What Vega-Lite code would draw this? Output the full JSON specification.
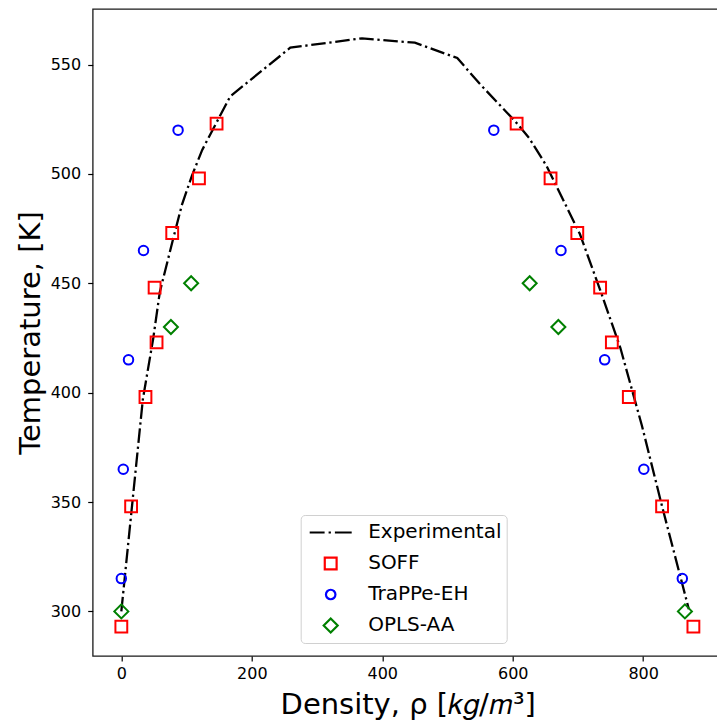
{
  "$schema": "https://vega.github.io/schema/vega-lite/v6.json",
  "width": 630,
  "height": 647,
  "autosize": {"type": "none"},
  "padding": {"left": 92.7, "top": 9, "right": 0, "bottom": 66},
  "background": "white",
  "config": {
    "view": {"stroke": "#1a1a1a", "strokeWidth": 1.3},
    "font": "DejaVu Sans",
    "axis": {
      "labelFont": "DejaVu Sans",
      "labelFontSize": 16,
      "labelColor": "#000000",
      "tickColor": "#000000",
      "tickSize": 5,
      "tickWidth": 1.2,
      "grid": false,
      "domain": false,
      "titleFont": "DejaVu Sans",
      "titleFontSize": 29,
      "titleFontWeight": "normal",
      "titleColor": "#000000"
    },
    "legend": {
      "labelFont": "DejaVu Sans",
      "labelFontSize": 20,
      "labelColor": "#000000"
    }
  },
  "datasets": {
    "experimental": [
      {"k": 1, "rho": 0, "T": 300},
      {"k": 2, "rho": 17, "T": 350},
      {"k": 3, "rho": 33, "T": 397},
      {"k": 4, "rho": 49, "T": 425},
      {"k": 5, "rho": 59, "T": 446},
      {"k": 6, "rho": 80, "T": 471},
      {"k": 7, "rho": 93, "T": 486},
      {"k": 8, "rho": 108, "T": 499},
      {"k": 9, "rho": 124, "T": 511},
      {"k": 10, "rho": 167, "T": 535.5},
      {"k": 11, "rho": 259, "T": 557.7},
      {"k": 12, "rho": 369, "T": 562},
      {"k": 13, "rho": 450, "T": 560},
      {"k": 14, "rho": 515, "T": 553},
      {"k": 15, "rho": 550, "T": 541},
      {"k": 16, "rho": 604, "T": 524},
      {"k": 17, "rho": 625, "T": 516.5},
      {"k": 18, "rho": 652, "T": 503.6},
      {"k": 19, "rho": 703, "T": 472.5},
      {"k": 20, "rho": 734, "T": 447},
      {"k": 21, "rho": 765, "T": 420.5},
      {"k": 22, "rho": 798, "T": 385},
      {"k": 23, "rho": 829, "T": 348},
      {"k": 24, "rho": 870, "T": 301}
    ],
    "simulations": [
      {"model": "SOFF", "rho": 0, "T": 293},
      {"model": "SOFF", "rho": 15, "T": 348},
      {"model": "SOFF", "rho": 37, "T": 398},
      {"model": "SOFF", "rho": 54, "T": 423},
      {"model": "SOFF", "rho": 51, "T": 448},
      {"model": "SOFF", "rho": 78, "T": 473},
      {"model": "SOFF", "rho": 119, "T": 498},
      {"model": "SOFF", "rho": 146, "T": 523},
      {"model": "SOFF", "rho": 877, "T": 293},
      {"model": "SOFF", "rho": 829, "T": 348},
      {"model": "SOFF", "rho": 778, "T": 398},
      {"model": "SOFF", "rho": 752, "T": 423},
      {"model": "SOFF", "rho": 734, "T": 448},
      {"model": "SOFF", "rho": 699, "T": 473},
      {"model": "SOFF", "rho": 658, "T": 498},
      {"model": "SOFF", "rho": 606, "T": 523},
      {"model": "TraPPe-EH", "rho": 0, "T": 315},
      {"model": "TraPPe-EH", "rho": 3, "T": 365},
      {"model": "TraPPe-EH", "rho": 11, "T": 415},
      {"model": "TraPPe-EH", "rho": 34, "T": 465},
      {"model": "TraPPe-EH", "rho": 87, "T": 520},
      {"model": "TraPPe-EH", "rho": 860, "T": 315},
      {"model": "TraPPe-EH", "rho": 801, "T": 365},
      {"model": "TraPPe-EH", "rho": 741, "T": 415},
      {"model": "TraPPe-EH", "rho": 674, "T": 465},
      {"model": "TraPPe-EH", "rho": 571, "T": 520},
      {"model": "OPLS-AA", "rho": 0, "T": 300},
      {"model": "OPLS-AA", "rho": 76, "T": 430},
      {"model": "OPLS-AA", "rho": 107, "T": 450},
      {"model": "OPLS-AA", "rho": 864, "T": 300},
      {"model": "OPLS-AA", "rho": 670, "T": 430},
      {"model": "OPLS-AA", "rho": 626, "T": 450}
    ]
  },
  "encoding": {
    "x": {
      "field": "rho",
      "type": "quantitative",
      "scale": {"domain": [-43.9, 921.9], "nice": false, "zero": false},
      "axis": {
        "values": [0, 200, 400, 600, 800],
        "labelPadding": 5,
        "title": "Density, ρ [𝑘𝑔/𝑚³]",
        "titlePadding": 9
      }
    },
    "y": {
      "field": "T",
      "type": "quantitative",
      "scale": {"domain": [279.6, 575.4], "nice": false, "zero": false},
      "axis": {
        "values": [300, 350, 400, 450, 500, 550],
        "labelPadding": 7,
        "title": "Temperature, [K]",
        "titlePadding": 5
      }
    }
  },
  "layer": [
    {
      "data": {"name": "experimental"},
      "mark": {
        "type": "line",
        "color": "#000000",
        "strokeWidth": 2.3,
        "strokeDash": [14.5, 3.7, 2.3, 3.7],
        "clip": true
      },
      "encoding": {
        "order": {"field": "k", "type": "quantitative"}
      }
    },
    {
      "data": {"name": "simulations"},
      "mark": {"type": "point", "filled": false, "strokeWidth": 2, "opacity": 1, "clip": true},
      "encoding": {
        "color": {
          "field": "model",
          "type": "nominal",
          "scale": {
            "domain": ["Experimental", "SOFF", "TraPPe-EH", "OPLS-AA"],
            "range": ["#000000", "#ff0000", "#0000ff", "#008000"]
          },
          "legend": {
            "title": null,
            "orient": "none",
            "legendX": 208,
            "legendY": 506,
            "padding": 4.5,
            "symbolOffset": 3,
            "labelOffset": 15,
            "rowPadding": 5,
            "clipHeight": 26,
            "strokeColor": "#d0d0d0",
            "fillColor": "#ffffff",
            "cornerRadius": 4,
            "symbolStrokeWidth": 2.2
          }
        },
        "shape": {
          "field": "model",
          "type": "nominal",
          "scale": {
            "domain": ["Experimental", "SOFF", "TraPPe-EH", "OPLS-AA"],
            "range": ["M-1,0H-0.29M-0.1,0H0.01M0.2,0H1", "square", "circle", "diamond"]
          }
        },
        "size": {
          "field": "model",
          "type": "nominal",
          "scale": {
            "type": "ordinal",
            "domain": ["Experimental", "SOFF", "TraPPe-EH", "OPLS-AA"],
            "range": [1764, 140, 90, 196]
          }
        }
      }
    }
  ]
}
